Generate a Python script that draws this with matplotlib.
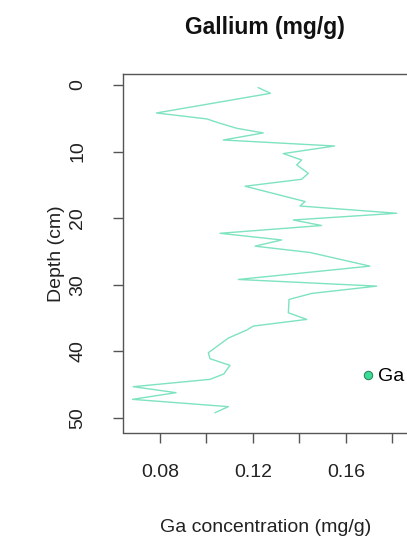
import matplotlib
matplotlib.use("Agg")
import matplotlib.pyplot as plt
from matplotlib.lines import Line2D

plt.rcParams['font.family'] = ['Liberation Sans', 'DejaVu Sans']

# Gallium profile: depth (cm) and concentration (mg/g)
depth = [0.4, 1.25, 4.2, 5.1, 5.75, 6.5, 7.2, 8.26, 9.16, 10.3, 11.26, 12.0,
         13.26, 14.16, 15.2, 17.5, 18.17, 19.26, 20.27, 21.1, 22.27, 23.27,
         24.2, 25.15, 27.2, 29.2, 30.2, 31.3, 32.2, 34.2, 35.2, 36.2, 36.8,
         38.0, 40.2, 41.1, 42.1, 43.4, 44.2, 45.3, 46.2, 47.2, 48.3, 49.2]
ga = [0.1223, 0.1275, 0.0785, 0.1002, 0.1058, 0.1130, 0.1244, 0.1072, 0.1551,
      0.1330, 0.1409, 0.1388, 0.1438, 0.1409, 0.1166, 0.1424, 0.1402, 0.1818,
      0.1373, 0.1495, 0.1058, 0.1323, 0.1209, 0.1445, 0.1703, 0.1137, 0.1732,
      0.1452, 0.1355, 0.1352, 0.1431, 0.1201, 0.1173, 0.1094, 0.1008, 0.1015,
      0.1101, 0.1074, 0.1015, 0.0685, 0.0869, 0.0682, 0.1094, 0.1037]

x_ticks = [0.08, 0.10, 0.12, 0.14, 0.16, 0.18]
x_tick_labels = ['0.08', '', '0.12', '', '0.16', '']
y_ticks = [0, 10, 20, 30, 40, 50]
y_tick_labels = ['0', '10', '20', '30', '40', '50']

line_color = '#7ee3bf'
dot_color = '#3ddc97'
axis_color = '#555555'

fig = plt.figure(figsize=(4.07, 5.40), dpi=100)
ax = fig.add_axes([122.5 / 407, 1 - 432.5 / 540, (408 - 122.5) / 407, (432.5 - 74) / 540])

ax.plot(ga, depth, color=line_color, lw=1.0)

ax.set_xlim(0.06387, 0.18667)
ax.set_ylim(52.18, -1.65)

ax.set_xticks(x_ticks)
ax.set_xticklabels(x_tick_labels)
ax.set_yticks(y_ticks)
ax.set_yticklabels(y_tick_labels, rotation=90, va='center')

for s in ax.spines.values():
    s.set_color(axis_color)
    s.set_linewidth(1.0)

ax.tick_params(axis='both', direction='out', length=7, width=1.0,
               color=axis_color, labelsize=14, labelcolor='#222222')
ax.tick_params(axis='x', pad=16)
ax.tick_params(axis='y', pad=19)

ax.set_xlabel('Ga concentration (mg/g)', fontsize=14, color='#222222', labelpad=27)
ax.set_ylabel('Depth (cm)', fontsize=14, color='#222222', labelpad=3)
ax.set_title('Gallium (mg/g)', fontsize=16.5, fontweight='bold', color='#111111', pad=29)

handle = Line2D([], [], linestyle='none', marker='o', markersize=6,
                markerfacecolor=dot_color, markeredgecolor='#2a8a5e', markeredgewidth=0.8)
ax.legend([handle], ['Ga'], loc='center left', bbox_to_anchor=(0.838, 0.156),
          frameon=False, fontsize=14, handlelength=0.6, handletextpad=0.25,
          borderpad=0, borderaxespad=0)

fig.savefig('out.png', dpi=100)
